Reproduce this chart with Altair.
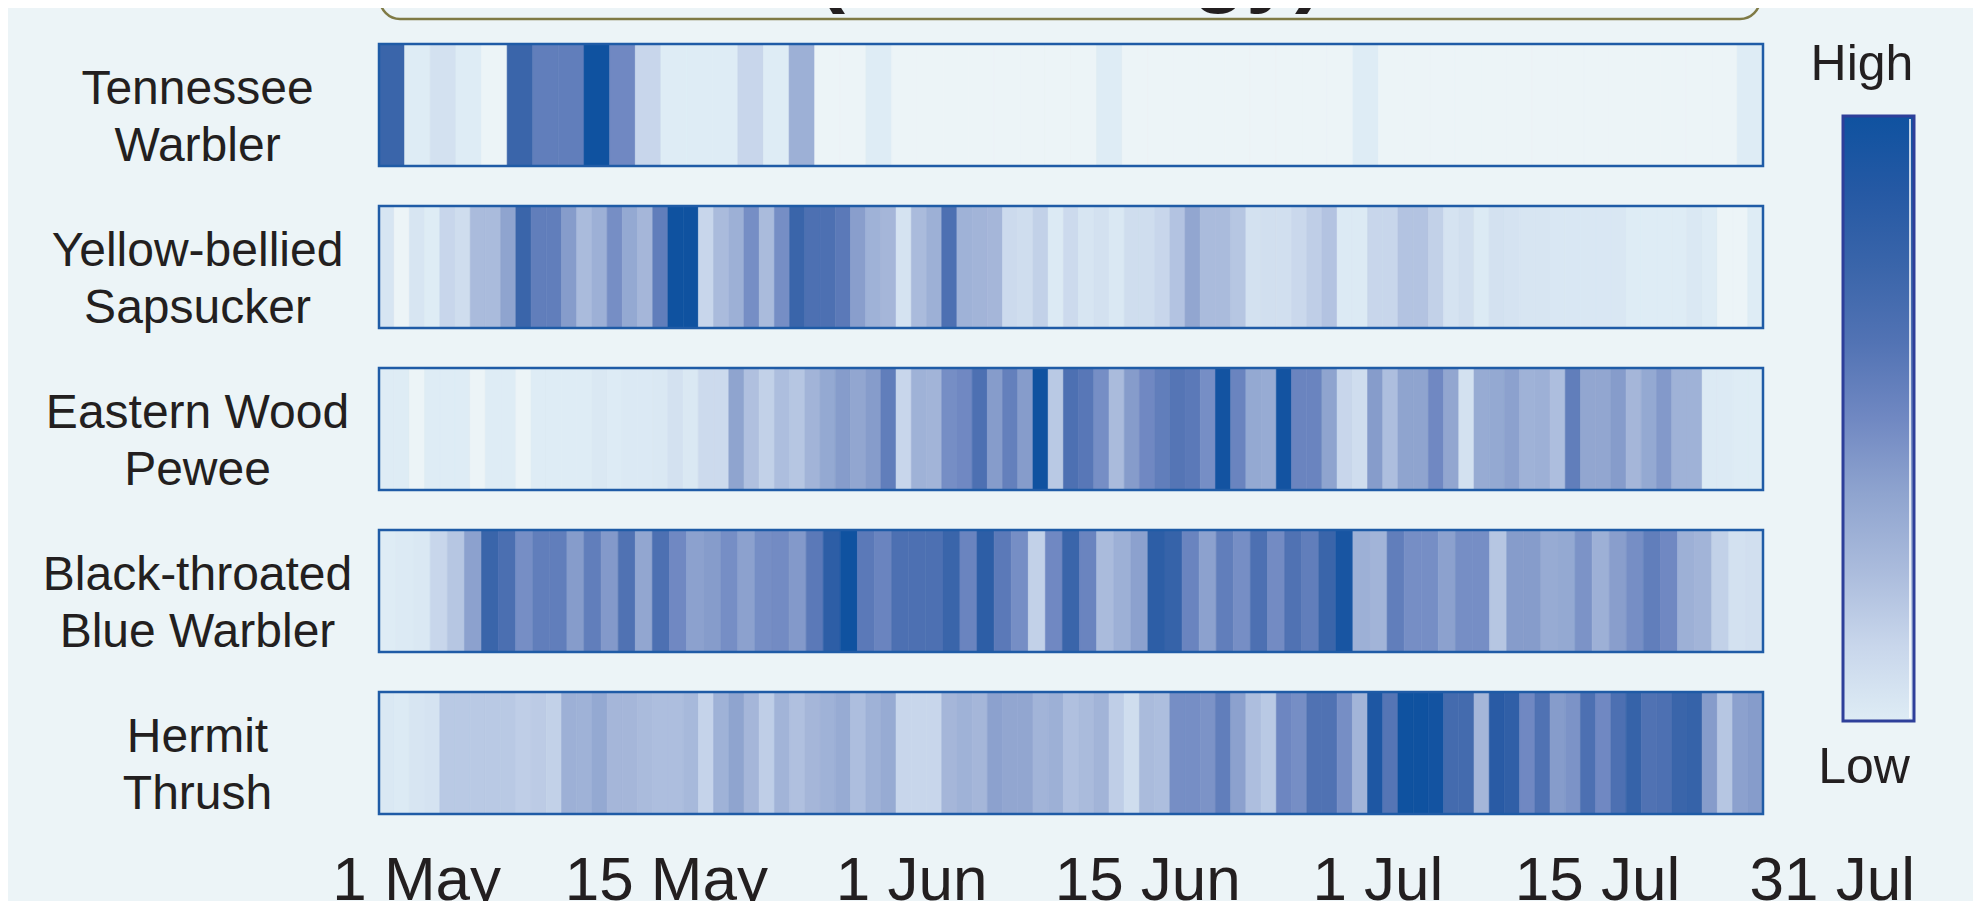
import altair as alt
import pandas as pd

FONT = "Liberation Sans"
TXT = "#231F20"
BG = "#ECF4F7"

species = ["Tennessee|Warbler", "Yellow-bellied|Sapsucker", "Eastern Wood|Pewee",
           "Black-throated|Blue Warbler", "Hermit|Thrush"]

tennessee = [7, 1, 1.5, 1, 0, 7, 5.5, 5.5, 9, 5, 2, 1, 1, 1, 2, 1, 3.5, 0, 0, 1,
             0, 0, 0, 0, 0, 0, 0, 0, 1, 0, 0, 0, 0, 0, 0, 0, 0, 0, 1,
             0, 0, 0, 0, 0, 0, 0, 0, 0, 0, 0, 0, 0, 0, 1]

sapsucker = [1.3, 0, 1.3, 1, 2, 1.7, 3, 3, 4, 7, 5.5, 5.5, 4.3, 3, 3.5, 4.8, 3.8, 3.2, 5.5, 9,
             9, 2, 3, 3.5, 4.8, 3, 4.8, 7, 6.2, 6.2, 5.7, 4.2, 3.4, 3.2, 1.4, 3, 3.5, 6.2, 3.4, 3.3,
             3.2, 1.8, 1.7, 2.2, 1.1, 1.8,
             1.3, 1.5, 1.2, 1.7, 1.7, 2, 2.7, 3.9, 3, 3, 2.6, 1.5, 1.6, 1.6, 1.9, 2.3, 2.7, 1.1, 1.1,
             2, 2, 2.7, 2.7, 2.2, 1.4, 1.6, 1.1, 1.5, 1.4, 1.3, 1.3, 1.25, 1.25, 1.25, 1.25, 1.25,
             1, 1, 1, 1, 1.2, 1, 0, 0, 1]

pewee = [1, 1, 0, 1, 1, 1, 0, 1, 1, 0, 1, 1, 1, 1, 1.2, 1.05, 1.15, 1.15, 1.2, 1.5,
         1.2, 1.8, 1.8, 4, 2.8, 2.2, 2.9, 2.6, 3.3, 3.8, 4.3, 3.9, 4.3, 5.5, 2, 3.4, 3.3, 4.8, 5, 6.2,
         4.3, 5.4, 4.3, 9, 2.5, 6.2,
         5.8, 4.8, 3, 4.3, 5, 5.5, 5.9, 5.7, 4.8, 8.8, 5.2, 3.8, 3.7, 8.8, 5.2, 5.2, 4, 2, 1.7,
         4.3, 2.9, 4, 4, 5, 3.9, 1.5, 3.7, 3.8, 4.1, 3.4, 3.5, 2.9, 5.5, 3.9, 3.9, 4.3, 3.2, 3.8,
         4.4, 3.4, 3.4, 1.1, 1.1, 1, 1]

bt_blue = [1.0, 1.1, 1.2, 2, 2.6, 4.1, 7, 6.3, 4.8, 5.5, 5.5, 4.3, 5.5, 4.4, 6.1, 3.9, 6.2, 5, 4.1, 4.3,
           4.8, 4.1, 4.8, 4.9, 4.4, 5.7, 7.6, 9, 5.7, 5.2, 6.2, 6.2, 6.2, 7, 5.2, 7.6, 5.7, 4.8, 2.2, 5,
           7,
           5.2, 3, 3.5, 4.1, 7.6, 7.2, 5.2, 4.1, 5.5, 4.8, 6.2, 4.9, 6.1, 5.5, 7, 8.6, 3.5, 3.3, 5.5,
           4.8, 4.8, 4.1, 4.8, 4.8, 2.6, 4.3, 4.3, 3.7, 3.8, 4.6, 3.5, 4.2, 4.8, 5.5, 5, 3.5, 3.3, 2.2,
           1.5, 1.6]

hermit = [1.2, 1.1, 1.3, 1.4, 2.5, 2.5, 2.5, 2.5, 2.5, 2.3, 2.4, 2.2, 3.5, 3.4, 3.8, 3.2, 3.2, 3, 2.9, 2.9,
          3.1, 2.1, 3.4, 4, 3.2, 2.3, 3.3, 2.8, 3.2, 3.4, 3.7, 2.9, 3.4, 3.7, 2, 2, 2, 3.2, 3.4, 3.2,
          4.1, 3.9, 3.9, 3.3, 3.5, 2.8,
          3, 3.3, 2.3, 1.7, 3, 2.9, 4.8, 4.8, 4.6, 5.5, 4.1, 2.9, 2.5, 5.1, 4.8, 6.1, 6.1, 4.8, 3.3,
          8.3, 5.9, 9, 9, 8.8, 6.6, 6.6, 3.2, 7.8, 7.5, 5, 6.1, 4.3, 4.6, 6.2, 5, 6.2, 7.2, 6.1, 6.2,
          7, 7.2, 4.3, 2.6, 4.1, 4.3]

rows = [tennessee, sapsucker, pewee, bt_blue, hermit]

levels = [0, 1, 2, 3, 4, 5, 6, 7, 8, 9]
level_colors = ["#ECF4F7", "#DEECF5", "#C8D6EB", "#AABBDC", "#8FA4CF",
                "#7088C2", "#5273B4", "#3A65AA", "#2559A4", "#0F52A0"]

tick_labels = ["1 May", "15 May", "1 Jun", "15 Jun", "1 Jul", "15 Jul", "31 Jul"]
tick_pos = [2.5, 19.1, 35.4, 51.1, 66.4, 81.0, 96.6]

N_DAYS = 92

records = []
for sp, vals in zip(species, rows):
    n = len(vals)
    for i, v in enumerate(vals):
        records.append({"species": sp, "start": i * N_DAYS / n,
                        "end": (i + 1) * N_DAYS / n, "level": v})
cells = pd.DataFrame(records)
frames = pd.DataFrame({"species": species, "start": [0] * 5, "end": [N_DAYS] * 5})
ticks_df = pd.DataFrame({"label": tick_labels, "pos": tick_pos})
one = pd.DataFrame({"k": [0]})

xscale = alt.Scale(domain=[0, N_DAYS], nice=False, zero=False)
yscale = alt.Scale(paddingInner=0.247, paddingOuter=0)
yaxis = alt.Axis(title=None, domain=False, ticks=False, tickSize=0, labelPadding=182,
                 labelAlign="center", labelFont=FONT, labelFontSize=48, labelColor=TXT,
                 labelLineHeight=57, labelOffset=-15, labelLimit=0,
                 labelExpr="split(datum.label, '|')")
color_scale = alt.Scale(domain=levels, range=level_colors, interpolate="rgb")

heat = alt.Chart(cells).mark_rect(strokeWidth=0.6).encode(
    x=alt.X("start:Q", scale=xscale, axis=None),
    x2="end:Q",
    y=alt.Y("species:N", sort=species, scale=yscale, axis=yaxis),
    color=alt.Color("level:Q", scale=color_scale, legend=None),
    stroke=alt.Stroke("level:Q", scale=color_scale, legend=None),
)

border = alt.Chart(frames).mark_rect(fillOpacity=0, stroke="#1F5BA6", strokeWidth=2.5).encode(
    x=alt.X("start:Q", scale=xscale, axis=None),
    x2="end:Q",
    y=alt.Y("species:N", sort=species, scale=yscale, axis=yaxis),
)

tick_text = alt.Chart(ticks_df).mark_text(font=FONT, fontSize=62, color=TXT,
                                          baseline="alphabetic", align="center").encode(
    x=alt.X("pos:Q", scale=xscale, axis=None),
    y=alt.value(856),
    text="label:N",
)

stops = [alt.GradientStop(color=c, offset=round(1 - i / 8, 4))
         for i, c in enumerate(level_colors[1:])][::-1]
legend_bar = alt.Chart(one).mark_rect(
    color=alt.Gradient(gradient="linear", stops=stops, x1=0, x2=0, y1=0, y2=1),
    stroke="#2E3F9A", strokeWidth=3,
).encode(x=alt.value(1464), x2=alt.value(1535), y=alt.value(72), y2=alt.value(677))

legend_line = alt.Chart(one).mark_rule(color="white", strokeWidth=1.5).encode(
    x=alt.value(1531), y=alt.value(75), y2=alt.value(674))

high_text = alt.Chart(one).mark_text(text="High", font=FONT, fontSize=50, color=TXT,
                                     baseline="alphabetic", align="center").encode(
    x=alt.value(1483), y=alt.value(36))
low_text = alt.Chart(one).mark_text(text="Low", font=FONT, fontSize=50, color=TXT,
                                    baseline="alphabetic", align="center").encode(
    x=alt.value(1485), y=alt.value(739))

title_box = alt.Chart(one).mark_rect(fillOpacity=0, stroke="#7F7A45", strokeWidth=2.5,
                                     cornerRadius=20).encode(
    x=alt.value(1), x2=alt.value(1381), y=alt.value(-250), y2=alt.value(-25))
title_text = alt.Chart(one).mark_text(text="(Phenology)", font=FONT, fontSize=88,
                                      fontWeight="bold", color=TXT,
                                      baseline="alphabetic", align="center").encode(
    x=alt.value(691), y=alt.value(-48))

chart = alt.layer(title_box, title_text, heat, border, tick_text, legend_bar, legend_line,
                  high_text, low_text).properties(
    width=1384, height=770,
    background=BG,
    padding={"left": 371, "top": 36, "right": 210, "bottom": 87},
    autosize=alt.AutoSizeParams(type="none"),
).configure_view(strokeWidth=0)

chart.save("out.html", embed_options={"renderer": "svg", "actions": False})
